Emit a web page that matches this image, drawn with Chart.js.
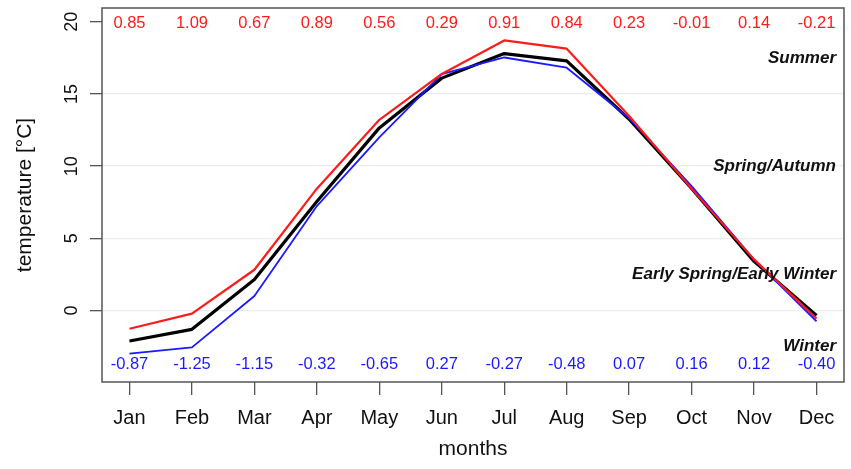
<!DOCTYPE html>
<html>
<head>
<meta charset="utf-8">
<script src="https://cdn.jsdelivr.net/npm/chart.js@4"></script>
<style>
  html, body { margin: 0; padding: 0; background: #fff; }
  #wrap { width: 851px; height: 469px; }
</style>
</head>
<body>
<div id="wrap"><canvas id="tempChart" width="851" height="469"></canvas></div>
<script>
  const months = ["Jan", "Feb", "Mar", "Apr", "May", "Jun", "Jul", "Aug", "Sep", "Oct", "Nov", "Dec"];
  const meanTemp = [-2.12, -1.31, 2.15, 7.55, 12.65, 16.10, 17.80, 17.30, 13.25, 8.45, 3.40, -0.35];
  const warmTemp = [-1.27, -0.22, 2.82, 8.44, 13.21, 16.39, 18.71, 18.14, 13.48, 8.44, 3.54, -0.56];
  const coldTemp = [-2.99, -2.56, 1.00, 7.23, 12.00, 16.37, 17.53, 16.82, 13.32, 8.61, 3.52, -0.75];
  const warmDiff = ["0.85", "1.09", "0.67", "0.89", "0.56", "0.29", "0.91", "0.84", "0.23", "-0.01", "0.14", "-0.21"];
  const coldDiff = ["-0.87", "-1.25", "-1.15", "-0.32", "-0.65", "0.27", "-0.27", "-0.48", "0.07", "0.16", "0.12", "-0.40"];
  const yTicks = [0, 5, 10, 15, 20];
  const seasons = [
    { text: "Summer", y: 17.5 },
    { text: "Spring/Autumn", y: 10 },
    { text: "Early Spring/Early Winter", y: 2.5 },
    { text: "Winter", y: -2.5 }
  ];

  const FONT = "'Liberation Sans', Arial, Helvetica, sans-serif";
  const RED = "#ff1a1a";
  const BLUE = "#1a1aff";
  const toPoints = arr => arr.map((v, i) => ({ x: i + 1, y: v }));

  // box + annotation texts, R style
  const annotations = {
    id: "annotations",
    afterDatasetsDraw(chart) {
      const { ctx, chartArea: a, scales: { x, y } } = chart;
      ctx.save();
      ctx.font = "16.5px " + FONT;
      ctx.textAlign = "center";
      ctx.textBaseline = "middle";
      months.forEach((m, i) => {
        const px = x.getPixelForValue(i + 1);
        ctx.fillStyle = RED;
        ctx.fillText(warmDiff[i], px, y.getPixelForValue(19.86));
        ctx.fillStyle = BLUE;
        ctx.fillText(coldDiff[i], px, y.getPixelForValue(-3.74));
      });
      ctx.font = "italic bold 17px " + FONT;
      ctx.textAlign = "right";
      ctx.fillStyle = "#111";
      seasons.forEach(s => ctx.fillText(s.text, a.right - 8, y.getPixelForValue(s.y)));
      ctx.strokeStyle = "#555";
      ctx.lineWidth = 1.5;
      ctx.strokeRect(a.left, a.top, a.right - a.left, a.bottom - a.top);
      ctx.restore();
    }
  };

  new Chart(document.getElementById("tempChart"), {
    type: "line",
    data: {
      datasets: [
        { data: toPoints(warmTemp), borderColor: RED, borderWidth: 2.2 },
        { data: toPoints(coldTemp), borderColor: BLUE, borderWidth: 1.8 },
        { data: toPoints(meanTemp), borderColor: "#000", borderWidth: 3.2 }
      ]
    },
    options: {
      responsive: false,
      animation: false,
      layout: { padding: { top: 8, right: 7, left: 0, bottom: 0 } },
      elements: { point: { radius: 0 }, line: { tension: 0, borderJoinStyle: "round" } },
      plugins: { legend: { display: false }, tooltip: { enabled: false } },
      scales: {
        x: {
          type: "linear",
          min: 0.56,
          max: 12.44,
          afterBuildTicks: s => { s.ticks = months.map((m, i) => ({ value: i + 1 })); },
          afterFit: s => { s.height = 87; s.paddingLeft = 0; s.paddingRight = 0; },
          border: { display: false },
          grid: { drawOnChartArea: false, tickLength: 13, tickColor: "#555", lineWidth: 1.3 },
          ticks: {
            autoSkip: false,
            maxRotation: 0,
            padding: 11,
            color: "#111",
            font: { family: FONT, size: 20 },
            callback: v => months[v - 1]
          },
          title: {
            display: true,
            text: "months",
            color: "#111",
            font: { family: FONT, size: 21 },
            padding: { top: 0, bottom: 7 }
          }
        },
        y: {
          min: -4.96,
          max: 20.96,
          afterBuildTicks: s => { s.ticks = yTicks.map(v => ({ value: v })); },
          afterFit: s => { s.width = 102; s.paddingTop = 0; s.paddingBottom = 0; },
          border: { display: false },
          grid: {
            color: c => (c.tick && c.tick.value === 20 ? "rgba(0,0,0,0)" : "#ececec"),
            tickColor: "#555",
            tickLength: 12,
            lineWidth: 1.3
          },
          ticks: {
            minRotation: 90,
            maxRotation: 90,
            crossAlign: "center",
            padding: 8,
            color: "#111",
            font: { family: FONT, size: 18 }
          },
          title: {
            display: true,
            text: "temperature [°C]",
            color: "#111",
            font: { family: FONT, size: 21 },
            padding: { top: 13, bottom: 0 }
          }
        }
      }
    },
    plugins: [annotations]
  });
</script>
</body>
</html>
